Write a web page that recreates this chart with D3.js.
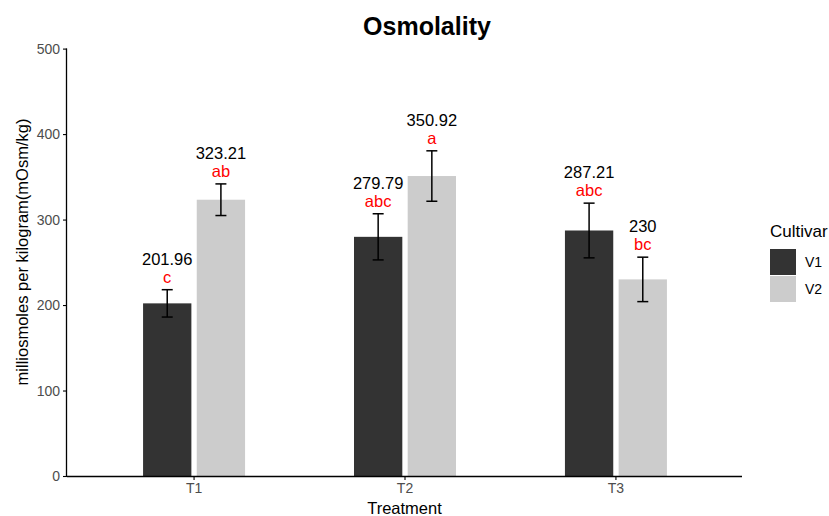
<!DOCTYPE html>
<html>
<head>
<meta charset="utf-8">
<script src="https://cdn.jsdelivr.net/npm/d3@7"></script>
<style>
  body { margin: 0; background: #fff; }
  svg { font-family: "Liberation Sans", Arial, Helvetica, sans-serif; }
</style>
</head>
<body>
<svg id="chart" width="829" height="516"></svg>
<script>
const treatments = ["T1", "T2", "T3"];
const cultivars = ["V1", "V2"];
const meansV1 = [201.96, 279.79, 287.21];
const meansV2 = [323.21, 350.92, 230];
const errV1 = [16, 27, 32];
const errV2 = [18.5, 29.5, 26];
const lettersV1 = ["c", "abc", "abc"];
const lettersV2 = ["ab", "a", "bc"];
const yTicks = [0, 100, 200, 300, 400, 500];

const colors = { V1: "#333333", V2: "#cccccc" };

const data = [];
treatments.forEach((t, i) => {
    data.push({ treatment: t, cultivar: "V1", mean: meansV1[i], err: errV1[i], letter: lettersV1[i] });
    data.push({ treatment: t, cultivar: "V2", mean: meansV2[i], err: errV2[i], letter: lettersV2[i] });
});

const svg = d3.select("#chart");
const panel = { left: 67, right: 742, top: 48.6, bottom: 476 };

// scales
const xScale = d3.scalePoint()
    .domain(treatments)
    .range([panel.left, panel.right])
    .padding(0.6);

const xSub = d3.scaleBand()
    .domain(cultivars)
    .range([-50.5, 51.5])
    .paddingInner(0.1);

const yScale = d3.scaleLinear()
    .domain([0, 500])
    .range([panel.bottom, panel.top]);

// bars
svg.append("g")
    .selectAll("rect")
    .data(data)
    .enter()
    .append("rect")
    .attr("x", d => xScale(d.treatment) + xSub(d.cultivar))
    .attr("y", d => yScale(d.mean))
    .attr("width", xSub.bandwidth())
    .attr("height", d => yScale(0) - yScale(d.mean))
    .attr("fill", d => colors[d.cultivar]);

// error bars
const cap = 5.5;
const errG = svg.append("g")
    .attr("stroke", "black")
    .attr("stroke-width", 1.5);

data.forEach(d => {
    const cx = xScale(d.treatment) + xSub(d.cultivar) + xSub.bandwidth() / 2;
    const yTop = yScale(d.mean + d.err);
    const yBot = yScale(d.mean - d.err);
    errG.append("line").attr("x1", cx).attr("x2", cx).attr("y1", yTop).attr("y2", yBot);
    errG.append("line").attr("x1", cx - cap).attr("x2", cx + cap).attr("y1", yTop).attr("y2", yTop);
    errG.append("line").attr("x1", cx - cap).attr("x2", cx + cap).attr("y1", yBot).attr("y2", yBot);
});

// value and letter labels
const labels = svg.append("g")
    .style("text-anchor", "middle")
    .style("font-size", "16.5px");

labels.selectAll(".val")
    .data(data)
    .enter()
    .append("text")
    .attr("class", "val")
    .attr("x", d => xScale(d.treatment) + xSub(d.cultivar) + xSub.bandwidth() / 2)
    .attr("y", d => yScale(d.mean + d.err) - 25)
    .attr("fill", "black")
    .text(d => d.mean);

labels.selectAll(".letter")
    .data(data)
    .enter()
    .append("text")
    .attr("class", "letter")
    .attr("x", d => xScale(d.treatment) + xSub(d.cultivar) + xSub.bandwidth() / 2)
    .attr("y", d => yScale(d.mean + d.err) - 7)
    .attr("fill", "red")
    .text(d => d.letter);

// x axis
const xAxis = svg.append("g")
    .attr("transform", `translate(0, ${panel.bottom})`)
    .call(d3.axisBottom(xScale).tickSize(4).tickPadding(3));
xAxis.select(".domain").attr("d", `M${panel.left},0.5H${panel.right}`).attr("stroke-width", 1.3);
xAxis.selectAll(".tick line").attr("stroke-width", 1.1);
xAxis.selectAll("text").style("font-size", "14px").style("fill", "#4d4d4d");

// y axis
const yAxis = svg.append("g")
    .attr("transform", `translate(${panel.left}, 0)`)
    .call(d3.axisLeft(yScale).tickValues(yTicks).tickSize(4).tickPadding(3));
yAxis.select(".domain").attr("d", `M-0.5,${panel.top}V${panel.bottom}`).attr("stroke-width", 1.3);
yAxis.selectAll(".tick line").attr("stroke-width", 1.1);
yAxis.selectAll("text").style("font-size", "14px").style("fill", "#4d4d4d");

// axis titles
svg.append("text")
    .attr("x", xScale("T2"))
    .attr("y", 514)
    .style("text-anchor", "middle")
    .style("font-size", "16.5px")
    .text("Treatment");

svg.append("text")
    .attr("transform", "translate(28, 252) rotate(-90)")
    .style("text-anchor", "middle")
    .style("font-size", "16.5px")
    .text("milliosmoles per kilogram(mOsm/kg)");

// title
svg.append("text")
    .attr("x", 427)
    .attr("y", 35)
    .style("text-anchor", "middle")
    .style("font-size", "25px")
    .style("font-weight", "bold")
    .text("Osmolality");

// legend
const legend = svg.append("g").attr("transform", "translate(770, 0)");
legend.append("text")
    .attr("x", 0)
    .attr("y", 237)
    .style("font-size", "17px")
    .text("Cultivar");

legend.selectAll("rect")
    .data(cultivars)
    .enter()
    .append("rect")
    .attr("x", 0)
    .attr("y", (d, i) => 249 + i * 27)
    .attr("width", 26)
    .attr("height", 26)
    .attr("fill", d => colors[d]);

legend.selectAll(".lab")
    .data(cultivars)
    .enter()
    .append("text")
    .attr("class", "lab")
    .attr("x", 35)
    .attr("y", (d, i) => 262 + i * 27)
    .attr("dy", "0.35em")
    .style("font-size", "14px")
    .text(d => d);
</script>
</body>
</html>
